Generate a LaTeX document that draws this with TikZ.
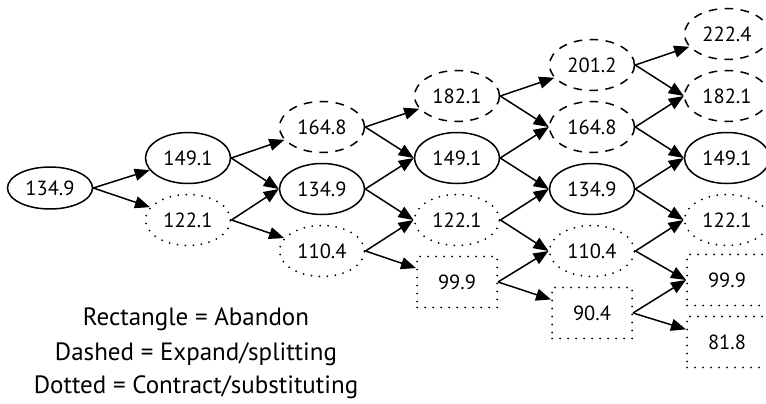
\documentclass[tikz,border=0pt]{standalone}
\usepackage{fontspec}
\setmainfont{PT Sans}
\usetikzlibrary{arrows.meta,shapes.geometric}
\tikzset{
  nbase/.style={font=\fontsize{20.5}{24}\selectfont, inner sep=0pt, line width=1.5pt},
  solidell/.style={nbase, ellipse, draw, minimum width=85pt, minimum height=51pt},
  dashell/.style={solidell, dash pattern=on 8.5pt off 7.5pt},
  dotell/.style={solidell, line width=2pt, dash pattern=on 0pt off 8pt, line cap=round},
  dotrect/.style={nbase, rectangle, draw, minimum width=80pt, minimum height=51pt, line width=2pt, dash pattern=on 0pt off 8pt, line cap=round},
  arr/.style={-{Triangle[length=15pt,width=12pt]}, line width=1.5pt},
  legend/.style={font=\fontsize{25}{30}\selectfont, inner sep=0pt, anchor=base}
}
\begin{document}
\begin{tikzpicture}[x=1pt,y=-1pt]
\useasboundingbox (0,0) rectangle (766,404);
% column 0
\node[solidell, minimum height=42pt] (n00) at (50,188) {134.9};
% column 1
\node[solidell] (n11) at (188,158) {149.1};
\node[dotell] (n1m1) at (188,220) {122.1};
% column 2
\node[dashell] (n22) at (322,127) {164.8};
\node[solidell] (n20) at (322,189) {134.9};
\node[dotell] (n2m2) at (322,251) {110.4};
% column 3
\node[dashell] (n33) at (457,96) {182.1};
\node[solidell] (n31) at (457,158) {149.1};
\node[dotell] (n3m1) at (457,220) {122.1};
\node[dotrect] (n3m3) at (457,282) {99.9};
% column 4
\node[dashell] (n44) at (592,65) {201.2};
\node[dashell] (n42) at (592,127) {164.8};
\node[solidell] (n40) at (592,189) {134.9};
\node[dotell] (n4m2) at (592,251) {110.4};
\node[dotrect] (n4m4) at (592,313) {90.4};
% column 5
\node[dashell] (n55) at (727,34) {222.4};
\node[dashell] (n53) at (727,96) {182.1};
\node[solidell] (n51) at (727,158) {149.1};
\node[dotell] (n5m1) at (727,220) {122.1};
\node[dotrect] (n5m3) at (727,280) {99.9};
\node[dotrect] (n5m5) at (727,342) {81.8};
% edges col0 -> col1
\draw[arr] (n00.east) -- (n11);
\draw[arr] (n00.east) -- (n1m1);
% col1 -> col2
\draw[arr] (n11.east) -- (n22);
\draw[arr] (n11.east) -- (n20.west);
\draw[arr] (n1m1.east) -- (n20.west);
\draw[arr] (n1m1.east) -- (n2m2);
% col2 -> col3
\draw[arr] (n22.east) -- (n33);
\draw[arr] (n22.east) -- (n31.west);
\draw[arr] (n20.east) -- (n31.west);
\draw[arr] (n20.east) -- (n3m1.west);
\draw[arr] (n2m2.east) -- (n3m1.west);
\draw[arr] (n2m2.east) -- (n3m3);
% col3 -> col4
\draw[arr] (n33.east) -- (n44);
\draw[arr] (n33.east) -- (n42.west);
\draw[arr] (n31.east) -- (n42.west);
\draw[arr] (n31.east) -- (n40.west);
\draw[arr] (n3m1.east) -- (n40.west);
\draw[arr] (n3m1.east) -- (n4m2.west);
\draw[arr] (n3m3.east) -- (n4m2.west);
\draw[arr] (n3m3.east) -- (n4m4);
% col4 -> col5
\draw[arr] (n44.east) -- (n55);
\draw[arr] (n44.east) -- (n53.west);
\draw[arr] (n42.east) -- (n53.west);
\draw[arr] (n42.east) -- (n51.west);
\draw[arr] (n40.east) -- (n51.west);
\draw[arr] (n40.east) -- (n5m1.west);
\draw[arr] (n4m2.east) -- (n5m1.west);
\draw[arr] (n4m2.east) -- (n5m3.west);
\draw[arr] (n4m4.east) -- (n5m3.west);
\draw[arr] (n4m4.east) -- (n5m5);
% legend
\node[legend] (l1) at (196,325) {Rectangle = Abandon};
\node[legend] (l2) at (196,360) {Dashed = Expand/splitting};
\node[legend] (l3) at (196,393) {Dotted = Contract/substituting};
\end{tikzpicture}
\end{document}
